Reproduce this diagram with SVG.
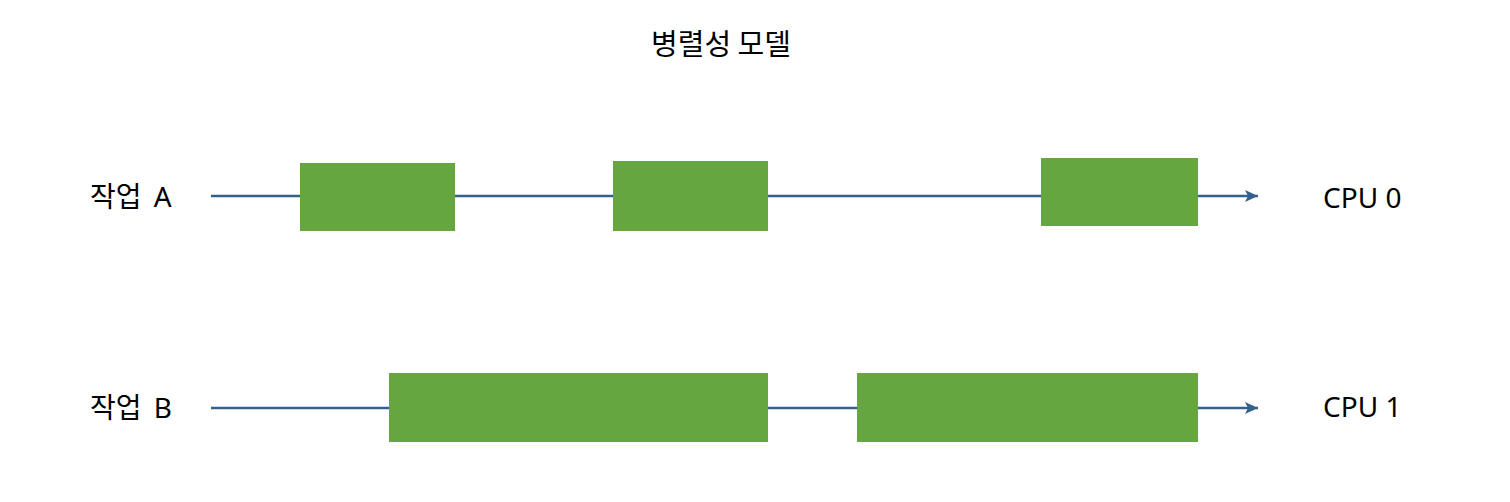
<svg xmlns="http://www.w3.org/2000/svg" width="1510" height="502" viewBox="0 0 1510 502">
<defs>
<style>
.t{font-family:"Noto Sans","Noto Sans CJK KR",sans-serif;font-size:28px;fill:#000}
.k{word-spacing:5px}
.ttl{font-family:"Noto Sans CJK KR","Noto Sans",sans-serif;font-size:29px;fill:#000}
.ln{stroke:#34618a;stroke-width:2.5;fill:none}
.bx{fill:#66a641}
</style>
<marker id="arr" markerWidth="14" markerHeight="12" refX="13" refY="6" orient="auto" markerUnits="userSpaceOnUse">
<path d="M0,0 L13,6 L0,12 L3,6 Z" fill="#34618a"/>
</marker>
</defs>
<rect width="1510" height="502" fill="#fff"/>
<text class="ttl" x="721" y="55" text-anchor="middle">병렬성 모델</text>
<g id="connectors">
<line class="ln" x1="211" y1="196" x2="1258" y2="196" marker-end="url(#arr)"/>
<line class="ln" x1="211" y1="408" x2="1258" y2="408" marker-end="url(#arr)"/>
</g>
<g id="taskA-label"><text class="t k" x="90" y="207">작업 A</text></g>
<g id="taskB-label"><text class="t k" x="90" y="418">작업 B</text></g>
<g id="cpu0"><text class="t" x="1323" y="208">CPU 0</text></g>
<g id="cpu1"><text class="t" x="1323" y="417">CPU 1</text></g>
<g id="a1"><rect class="bx" x="300" y="163" width="155" height="68"/></g>
<g id="a2"><rect class="bx" x="613" y="161" width="155" height="70"/></g>
<g id="a3"><rect class="bx" x="1041" y="158" width="157" height="68"/></g>
<g id="b1"><rect class="bx" x="389" y="373" width="379" height="69"/></g>
<g id="b2"><rect class="bx" x="857" y="373" width="341" height="69"/></g>
</svg>
